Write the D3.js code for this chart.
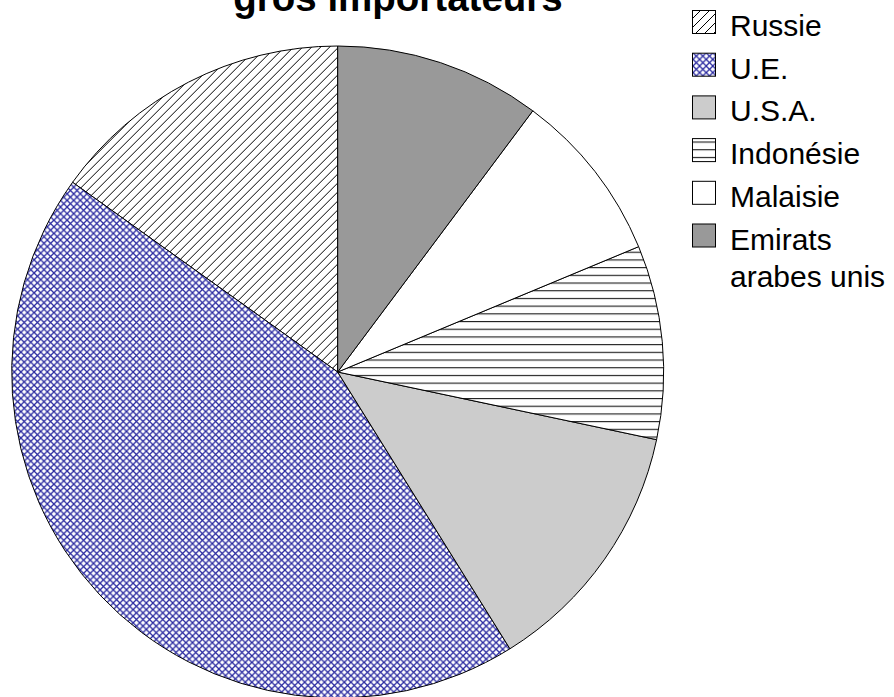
<!DOCTYPE html>
<html>
<head>
<meta charset="utf-8">
<script src="https://cdn.jsdelivr.net/npm/d3@7"></script>
<style>
  html, body { margin: 0; padding: 0; background: #fff; }
  svg { display: block; }
  text { font-family: "Liberation Sans", Arial, sans-serif; fill: #000; }
</style>
</head>
<body>
<svg id="chart" width="894" height="697"></svg>
<script>
// Parts of imports, by country (%)
const categories = ["Russie", "U.E.", "U.S.A.", "Indonésie", "Malaisie", "Emirats arabes unis"];
const values = [15.1, 43.7, 12.8, 9.6, 8.5, 10.2];
const legendLines = [["Russie"], ["U.E."], ["U.S.A."], ["Indonésie"], ["Malaisie"], ["Emirats", "arabes unis"]];
const titleText = "gros importateurs";

// Fill for each slice (pattern ids or plain colours)
const fills = ["url(#hatchDiag)", "url(#hatchCross)", "#cccccc", "url(#hatchHoriz)", "#ffffff", "#999999"];

const svg = d3.select("#chart");
const defs = svg.append("defs");

// Diagonal "/" hatching
const pDiag = defs.append("pattern").attr("id", "hatchDiag")
  .attr("patternUnits", "userSpaceOnUse").attr("width", 9).attr("height", 9);
pDiag.append("rect").attr("width", 9).attr("height", 9).attr("fill", "#fff");
pDiag.append("path").attr("d", "M-2,2 L2,-2 M0,9 L9,0 M7,11 L11,7")
  .attr("stroke", "#000").attr("stroke-width", 1);

// Blue diagonal cross-hatching
const pCross = defs.append("pattern").attr("id", "hatchCross")
  .attr("patternUnits", "userSpaceOnUse").attr("width", 6.6).attr("height", 6.6);
pCross.append("rect").attr("width", 6.6).attr("height", 6.6).attr("fill", "#fff");
pCross.append("path").attr("d", "M0,0 L6.6,6.6 M6.6,0 L0,6.6")
  .attr("stroke", "#2a2aa0").attr("stroke-width", 1.3);

// Horizontal lines
const pHoriz = defs.append("pattern").attr("id", "hatchHoriz")
  .attr("patternUnits", "userSpaceOnUse").attr("width", 8).attr("height", 7.7);
pHoriz.append("rect").attr("width", 8).attr("height", 7.7).attr("fill", "#fff");
pHoriz.append("path").attr("d", "M0,3.5 L8,3.5")
  .attr("stroke", "#000").attr("stroke-width", 1);

// Title (partly above the visible area)
svg.append("text")
  .attr("x", 398).attr("y", 11)
  .attr("text-anchor", "middle")
  .attr("font-size", 38.5).attr("font-weight", "bold")
  .text(titleText);

// Pie, drawn counter-clockwise from 12 o'clock
const cx = 337.7, cy = 372, radius = 326;
const pie = d3.pie().sort(null).value(d => d).startAngle(0).endAngle(-2 * Math.PI);
const arc = d3.arc().innerRadius(0).outerRadius(radius);

const g = svg.append("g").attr("transform", `translate(${cx},${cy})`);
g.selectAll("path.slice")
  .data(pie(values))
  .join("path")
  .attr("class", "slice")
  .attr("d", arc)
  .attr("fill", (d, i) => fills[i])
  .attr("stroke", "#000")
  .attr("stroke-width", 1)
  .attr("stroke-linejoin", "round");

// Legend
const legendX = 692.5, legendTop = 10.5, rowStep = 42.7, box = 23;
const lg = svg.append("g");
categories.forEach((c, i) => {
  const y = legendTop + i * rowStep;
  lg.append("rect")
    .attr("x", legendX).attr("y", y)
    .attr("width", box).attr("height", box)
    .attr("fill", fills[i]).attr("stroke", "#000").attr("stroke-width", 1);
  const t = lg.append("text")
    .attr("x", 730).attr("y", y + 25.5)
    .attr("font-size", 30);
  legendLines[i].forEach((line, k) => {
    t.append("tspan").attr("x", 730).attr("dy", k === 0 ? 0 : 37).text(line);
  });
});
</script>
</body>
</html>
